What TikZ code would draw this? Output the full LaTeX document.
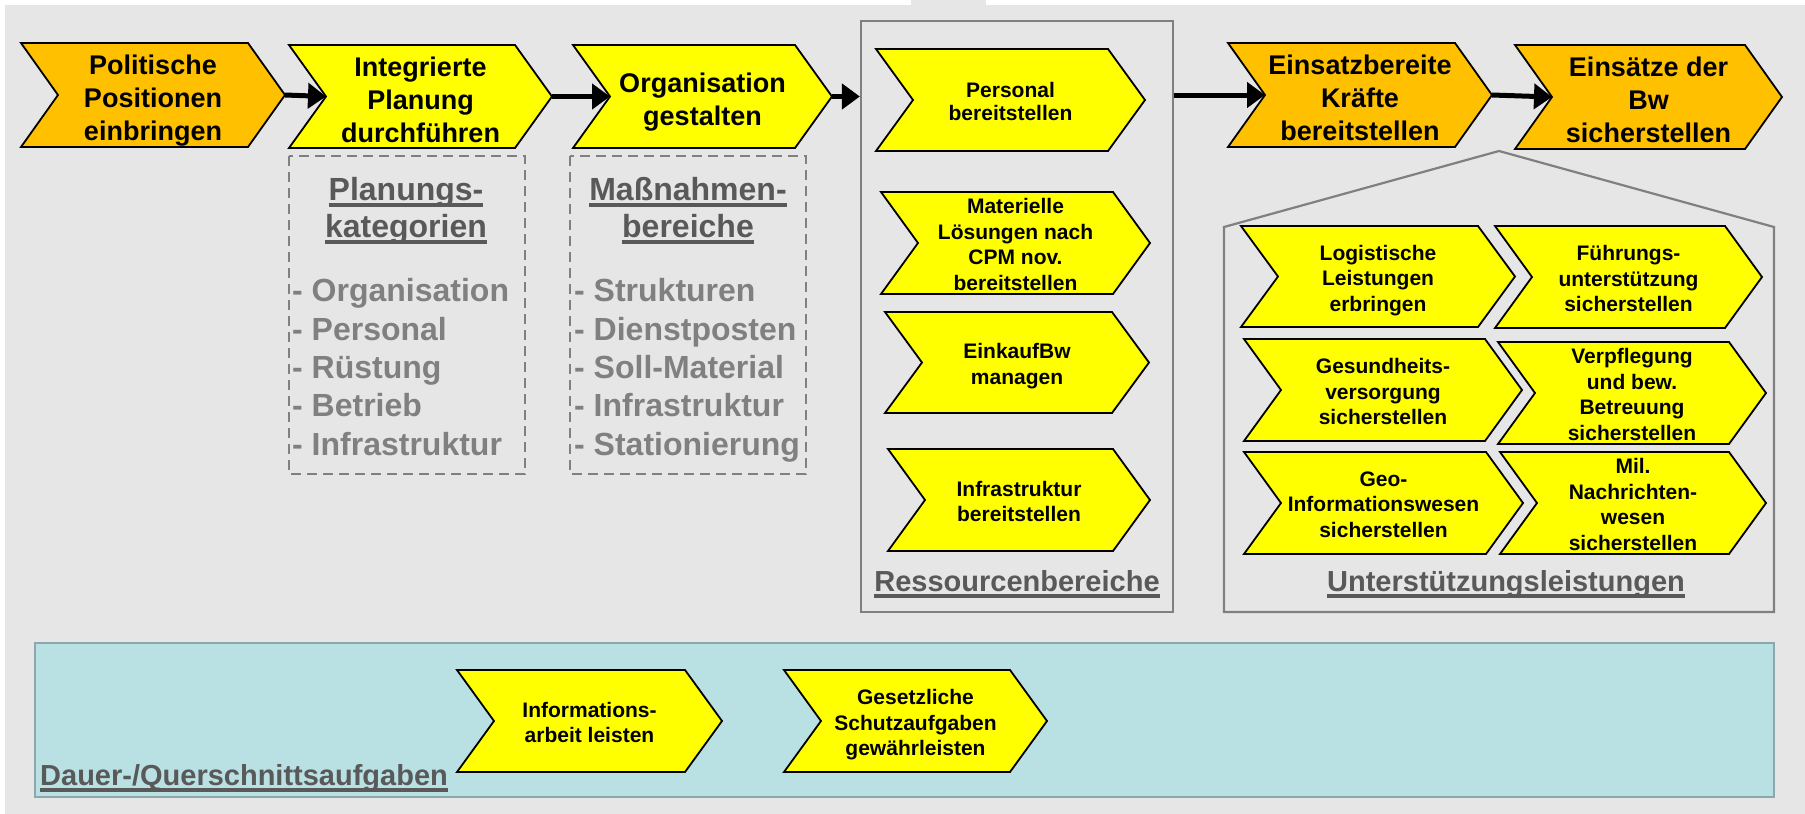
\documentclass[tikz,border=0pt]{standalone}
\usepackage{fontspec}
\setmainfont{Liberation Sans}
\usetikzlibrary{arrows.meta}
\definecolor{bg}{HTML}{E6E6E6}
\definecolor{ylw}{HTML}{FFFF00}
\definecolor{org}{HTML}{FFC000}
\definecolor{tealfill}{HTML}{B9E0E3}
\definecolor{tealline}{HTML}{8CA8AA}
\definecolor{gline}{HTML}{808080}
\definecolor{hdr}{HTML}{595959}
\definecolor{itm}{HTML}{808080}
\newsavebox\myulbox
\newcommand\myul[1]{\sbox\myulbox{#1}\rlap{\rule[-6.5pt]{\wd\myulbox}{3.2pt}}\usebox\myulbox}
\newcommand\mychev[8]{%
  \pgfmathsetmacro\ym{(#4+#5)/2}%
  \filldraw[chevline, fill=#6] (#2,#4) -- (#3,#4) -- (#3+37,\ym) -- (#3,#5) -- (#2,#5) -- (#2+37,\ym) -- cycle;
  \node[#7] (#1) at ({(#2+37+#3)/2},\ym) {#8};
  \coordinate (#1-tip) at (#3+37,\ym);
  \coordinate (#1-notch) at (#2+37,\ym);
}
\tikzset{
  chevline/.style={draw=black, line width=1.8pt, line join=miter},
  bigtxt/.style={font=\bfseries\fontsize{27}{33}\selectfont, align=center, inner sep=0pt, text depth=0pt, yshift=-3pt},
  smalltxt/.style={font=\bfseries\fontsize{21}{25.5}\selectfont, align=center, inner sep=0pt, text depth=0pt, yshift=-1.5pt},
  tighttxt/.style={font=\bfseries\fontsize{21}{23}\selectfont, align=center, inner sep=0pt, text depth=0pt, yshift=-1.5pt},
  hdrtxt/.style={font=\bfseries\fontsize{32}{37}\selectfont, text=hdr, align=center, inner sep=0pt},
  itmtxt/.style={font=\bfseries\fontsize{32}{38.3}\selectfont, text=itm, align=left, inner sep=0pt},
  grptxt/.style={font=\bfseries\fontsize{29}{34}\selectfont, text=hdr, inner sep=0pt},
  dashbox/.style={draw=gline, line width=2pt, dash pattern=on 10pt off 6pt},
  grpbox/.style={draw=gline, line width=2.2pt},
  arr/.style={line width=5pt, -{Triangle[length=18pt,width=25pt]}},
}
\begin{document}
\begin{tikzpicture}[x=1pt,y=-1pt]
\useasboundingbox (0,0) rectangle (1805,814);
% background
\fill[white] (0,0) rectangle (1805,814);
\fill[bg] (4.5,5) rectangle (1805,814);
\fill[bg] (911,0) rectangle (986,5);

% dashed boxes
\draw[dashbox] (289,156) rectangle (525,474);
\draw[dashbox] (570,156) rectangle (806,474);
\node[hdrtxt, anchor=base] (plhdr) at (406,237) {\myul{Planungs-}\\\myul{kategorien}};
\node[hdrtxt, anchor=base] (mahdr) at (688,237) {\myul{Maßnahmen-}\\\myul{bereiche}};
\node[itmtxt, anchor=base west] (plitems) at (292,455) {- Organisation\\- Personal\\- Rüstung\\- Betrieb\\- Infrastruktur};
\node[itmtxt, anchor=base west] (maitems) at (574,455) {- Strukturen\\- Dienstposten\\- Soll-Material\\- Infrastruktur\\- Stationierung};

% resource box
\node[grpbox, minimum width=312pt, minimum height=591pt, inner sep=0pt] (resbox) at (1017,316.5) {};
\node[grptxt, anchor=base] (reslbl) at (1017,591) {\myul{Ressourcenbereiche}};

% support house
\draw[grpbox] (1224,612) -- (1224,227) -- (1499,151) -- (1774,227) -- (1774,612) -- cycle;
\node[grptxt, anchor=base] (unlbl) at (1506,591) {\myul{Unterstützungsleistungen}};

% cross-section band
\draw[fill=tealfill, draw=tealline, line width=2pt] (35,643) rectangle (1774,797);
\node[grptxt, anchor=base west] (dqlbl) at (40,785) {\myul{Dauer-/Querschnittsaufgaben}};

% top row
\mychev{P1}{21}{248}{43}{147}{org}{bigtxt}{Politische\\Positionen\\einbringen}
\mychev{P2}{289}{515}{45}{148}{ylw}{bigtxt}{Integrierte\\Planung\\durchführen}
\mychev{P3}{573}{795}{45}{148}{ylw}{bigtxt}{Organisation\\gestalten}
\mychev{E1}{1228}{1455}{43}{147}{org}{bigtxt}{Einsatzbereite\\Kräfte\\bereitstellen}
\mychev{E2}{1515}{1745}{45}{149}{org}{bigtxt}{Einsätze der\\Bw\\sicherstellen}

% resources
\mychev{R1}{876}{1108}{49}{151}{ylw}{tighttxt}{Personal\\bereitstellen}
\mychev{R2}{881}{1113}{192}{294}{ylw}{smalltxt}{Materielle\\Lösungen nach\\CPM nov.\\bereitstellen}
\mychev{R3}{885}{1112}{312}{413}{ylw}{smalltxt}{EinkaufBw\\managen}
\mychev{R4}{888}{1113}{449}{551}{ylw}{smalltxt}{Infrastruktur\\bereitstellen}

% support services
\mychev{U1}{1241}{1478}{226}{327}{ylw}{smalltxt}{Logistische\\Leistungen\\erbringen}
\mychev{U2}{1495}{1725}{226}{328}{ylw}{smalltxt}{Führungs-\\unterstützung\\sicherstellen}
\mychev{U3}{1244}{1485}{339}{441}{ylw}{smalltxt}{Gesundheits-\\versorgung\\sicherstellen}
\mychev{U4}{1498}{1729}{342}{444}{ylw}{smalltxt}{Verpflegung\\und bew.\\Betreuung\\sicherstellen}
\mychev{U5}{1244}{1486}{452}{554}{ylw}{smalltxt}{Geo-\\Informationswesen\\sicherstellen}
\mychev{U6}{1500}{1729}{452}{554}{ylw}{smalltxt}{Mil.\\Nachrichten-\\wesen\\sicherstellen}

% cross-section tasks
\mychev{Q1}{457}{685}{670}{772}{ylw}{smalltxt}{Informations-\\arbeit leisten}
\mychev{Q2}{784}{1010}{670}{772}{ylw}{smalltxt}{Gesetzliche\\Schutzaufgaben\\gewährleisten}

% arrows
\draw[arr] (P1-tip) -- (P2-notch);
\draw[arr] (P2-tip) -- (P3-notch);
\draw[arr] (P3-tip) -- (resbox.west |- P3-tip);
\draw[arr] (resbox.east |- E1-notch) -- (E1-notch);
\draw[arr] (E1-tip) -- (E2-notch);
\end{tikzpicture}
\end{document}
